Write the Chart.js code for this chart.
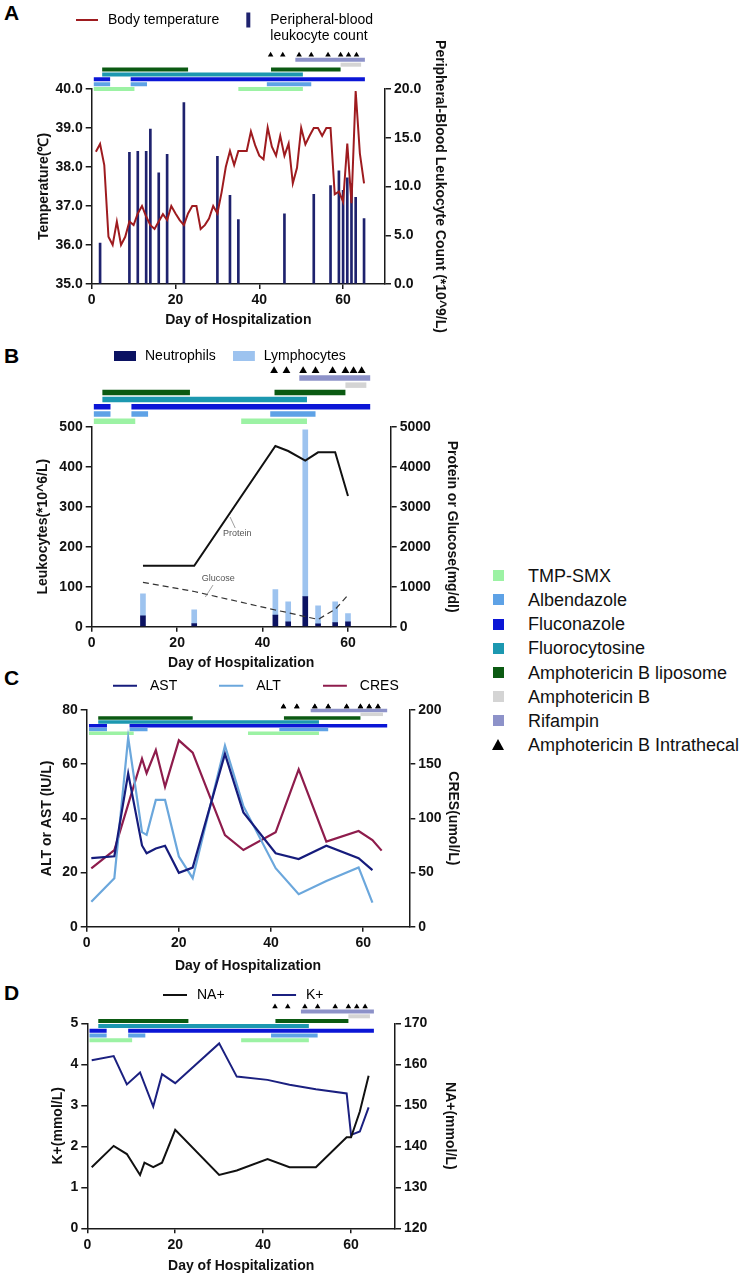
<!DOCTYPE html>
<html>
<head>
<meta charset="utf-8">
<script src="https://cdn.jsdelivr.net/npm/chart.js@4.4.1/dist/chart.umd.min.js"></script>
<style>
  body { margin: 0; width: 750px; height: 1279px; background: #fff; position: relative; overflow: hidden;
         font-family: 'Liberation Sans', Arial, sans-serif; }
  canvas { position: absolute; left: 0; }
  .tag { position: absolute; left: 4px; font-weight: bold; font-size: 21px; line-height: 21px; color: #000; }
  .swatch { position: absolute; left: 493px; width: 11px; height: 11px; }
  .tri { position: absolute; left: 492px; width: 0; height: 0; border-left: 6px solid transparent;
         border-right: 6px solid transparent; border-bottom: 11px solid #000; }
  .drugname { position: absolute; left: 528px; font-size: 18px; line-height: 20px; color: #111; white-space: nowrap; }
</style>
</head>
<body>
<div class="tag" style="top:2px">A</div>
<div class="tag" style="top:345px">B</div>
<div class="tag" style="top:667px">C</div>
<div class="tag" style="top:982px">D</div>
<canvas id="panelA" width="480" height="335" style="top:0px"></canvas>
<canvas id="panelB" width="480" height="345" style="top:335px"></canvas>
<canvas id="panelC" width="480" height="318" style="top:665px"></canvas>
<canvas id="panelD" width="480" height="304" style="top:975px"></canvas>
<div id="drugLegend"></div>
<script>
// treatment courses, [first day, last day]
const drugNames = ['TMP-SMX', 'Albendazole', 'Fluconazole', 'Fluorocytosine', 'Amphotericin B liposome', 'Amphotericin B', 'Rifampin'];
const drugColors = ['#9cf2a4', '#5ea2e6', '#0b16d6', '#1c98b0', '#0b5a12', '#d4d4d4', '#8d92c9'];
const tmpSmx = [[0.5, 10.2], [35, 50.4]];
const albendazole = [[0.5, 4.4], [9.3, 13.2], [41.8, 52.4]];
const fluconazole = [[0.5, 4.4], [9.3, 65.2]];
const fluorocytosine = [[2.5, 50.4]];
const amphoLiposome = [[2.5, 23.0], [42.8, 59.4]];
const amphoB = [[59.4, 64.3]];
const rifampin = [[48.6, 65.2]];
const drugCourses = [tmpSmx, albendazole, fluconazole, fluorocytosine, amphoLiposome, amphoB, rifampin];
const intrathecalDays = [42.7, 45.6, 49.5, 52.4, 56.4, 59.4, 61.3, 63.2];

// A: body temperature and blood leukocytes
const tempDays = [1, 2, 3, 4, 5, 6, 7, 8, 9, 10, 11, 12, 13, 14, 15, 16, 17, 18, 19, 20, 21, 22, 23, 24, 25, 26, 27, 28, 29, 30,
  31, 32, 33, 34, 35, 36, 37, 38, 39, 40, 41, 42, 43, 44, 45, 46, 47, 48, 49, 50, 51, 52, 53, 54, 55, 56, 57, 58, 59, 60,
  61, 62, 63, 64, 65];
const tempValues = [38.39, 38.59, 38.05, 36.21, 36.0, 36.6, 36.0, 36.21, 36.6, 36.51, 36.81, 37.0, 36.73, 36.51, 36.41,
  36.6, 36.79, 36.64, 37.0, 36.81, 36.64, 36.51, 36.81, 37.0, 37.0, 36.41, 36.51, 36.68, 37.0, 36.81, 37.35, 38.0, 38.41,
  38.05, 38.41, 38.41, 38.41, 38.91, 38.56, 38.29, 38.2, 39.01, 38.52, 38.29, 38.8, 38.29, 38.6, 37.58, 37.98, 39.0, 38.58,
  38.8, 39.0, 39.0, 38.8, 39.0, 39.0, 37.3, 37.37, 37.11, 38.6, 37.07, 39.95, 38.35, 37.58];
const wbcDays = [2, 9, 11, 13, 14, 16, 18, 22, 30, 33, 35, 46, 53, 57, 59, 60, 61, 62, 63, 65];
const wbcValues = [4.2, 13.5, 13.6, 13.6, 15.9, 11.4, 13.3, 18.6, 13.1, 9.1, 6.6, 7.2, 9.2, 10.1, 11.6, 9.6, 10.9, 10.3, 8.9, 6.7];

// B: cerebrospinal fluid
const csfDays = [12, 24, 43, 46, 50, 53, 57, 60];
const neutrophils = [27, 8, 29, 12, 75, 7, 10, 12];
const lymphocytes = [55, 34, 64, 50, 417, 45, 52, 21];
const protein = [1525, 1525, 4517, 4392, 4150, 4360, 4360, 3267];
const glucose = [1110, 880, 417, 350, 250, 183, 433, 792];
const proteinNote = { text: 'Protein', at: [34.1, 2340], from: [32.4, 2742], to: [33.6, 2467] };
const glucoseNote = { text: 'Glucose', at: [29.6, 1217], from: [26.6, 742], to: [28.4, 1042] };

// C: liver and kidney
const liverDays = [1, 6, 9, 12, 13, 15, 17, 20, 23, 30, 34, 41, 46, 52, 59, 62];
const astValues = [25.3, 26, 56.6, 30, 27.1, 28.9, 29.9, 19.9, 21.8, 63.8, 42.2, 27.1, 25, 29.9, 25.3, 20.9];
const altValues = [9.2, 17.9, 69.8, 34.9, 33.9, 46.8, 46.8, 25.9, 17.9, 66.8, 44.5, 21.6, 12, 16.9, 21.9, 8.9];
const cresDays = [1, 6, 12, 13, 15, 17, 20, 23, 30, 34, 41, 46, 52, 59, 62, 64];
const cresValues = [53.9, 70.8, 155, 141.6, 163, 129, 172, 160.6, 84.6, 70.8, 87.1, 145.3, 78.5, 88.3, 80, 70.2];

// D: electrolytes
const kDays = [1, 6, 9, 12, 15, 17, 20, 30, 34, 41, 46, 52, 59, 60, 62, 64];
const kValues = [4.1, 4.2, 3.51, 3.8, 2.97, 3.76, 3.54, 4.51, 3.7, 3.62, 3.5, 3.39, 3.29, 2.28, 2.36, 2.95];
const naDays = [1, 6, 9, 12, 13, 15, 17, 20, 30, 34, 41, 46, 52, 59, 60, 62, 64];
const naValues = [134.9, 140.1, 138.1, 133.0, 136.0, 134.9, 136.0, 144.0, 133.0, 134.1, 136.9, 134.9, 134.9, 142.2, 142.2, 148.5, 157.2];

const FONT = "'Liberation Sans', Arial, sans-serif";
const tickFont = { family: FONT, size: 14, weight: 'bold' };
const titleFont = { family: FONT, size: 14, weight: 'bold' };
const legendFont = { family: FONT, size: 14, lineHeight: 1.12 };
const axisColor = '#1a1a1a';

const pairs = (xs, ys) => xs.map((x, i) => ({ x, y: ys[i] }));

// legend: fixed reserved height, and the first symbol placed at a given spot
const legendSpot = {
  id: 'legendSpot',
  beforeInit(chart, args, opts) {
    const legend = chart.legend;
    const fit = legend.fit;
    legend.fit = function () { fit.call(this); this.height = opts.height; };
  },
  afterLayout(chart, args, opts) {
    const legend = chart.legend;
    legend.left = opts.x - opts.pad;
    legend.right = legend.left + 2000;
    legend.top = opts.y - opts.pad - legendFont.size / 2;
  }
};

// points above the plot area are skipped by Chart.js, so redraw the marker set against the whole canvas
const markersOutside = {
  id: 'markersOutside',
  afterDatasetsDraw(chart) {
    const whole = { left: 0, top: 0, right: chart.width, bottom: chart.height };
    chart.data.datasets.forEach((ds, i) => {
      if (!ds.outsideMarkers) return;
      chart.getDatasetMeta(i).data.forEach(pt => pt.draw(chart.ctx, whole));
    });
  }
};

const curveNotes = {
  id: 'curveNotes',
  afterDatasetsDraw(chart, args, opts) {
    const { ctx, scales: { x, y1 } } = chart;
    ctx.save();
    (opts.notes || []).forEach(n => {
      ctx.strokeStyle = '#888';
      ctx.lineWidth = 0.8;
      ctx.beginPath();
      ctx.moveTo(x.getPixelForValue(n.from[0]), y1.getPixelForValue(n.from[1]));
      ctx.lineTo(x.getPixelForValue(n.to[0]), y1.getPixelForValue(n.to[1]));
      ctx.stroke();
      ctx.fillStyle = '#555';
      ctx.font = '9px ' + FONT;
      ctx.textAlign = 'center';
      ctx.textBaseline = 'middle';
      ctx.fillText(n.text, x.getPixelForValue(n.at[0]), y1.getPixelForValue(n.at[1]));
    });
    ctx.restore();
  }
};

function lineIcon(color, width, len, lw) {
  const c = document.createElement('canvas');
  c.width = width; c.height = 16;
  const g = c.getContext('2d');
  g.strokeStyle = color; g.lineWidth = lw;
  g.beginPath(); g.moveTo(0, 8); g.lineTo(len, 8); g.stroke();
  return c;
}

function boxIcon(color, width, bx, bw, bh) {
  const c = document.createElement('canvas');
  c.width = width; c.height = 16;
  const g = c.getContext('2d');
  g.fillStyle = color;
  g.fillRect(bx, 8 - bh / 2, bw, bh);
  return c;
}

function treatmentDatasets(thickness, triRadius) {
  const sets = drugCourses.map((courses, row) => ({
    type: 'line', label: drugNames[row], yAxisID: 'tr', clip: false,
    data: courses.flatMap(([s, e]) => [{ x: s, y: row }, { x: e, y: row }, { x: e, y: null }]),
    borderColor: drugColors[row], borderWidth: thickness, borderCapStyle: 'butt',
    pointRadius: 0, spanGaps: false, tension: 0
  }));
  sets.push({
    type: 'line', label: 'Amphotericin B Intrathecal', yAxisID: 'tr', clip: false, showLine: false,
    outsideMarkers: true,
    data: intrathecalDays.map(d => ({ x: d, y: drugNames.length })),
    pointStyle: 'triangle', pointRadius: triRadius, pointBackgroundColor: '#000', pointBorderWidth: 0
  });
  return sets;
}

// hidden axis that puts row 0 at offset0 px below the plot top, one row per step px
function treatmentAxis(offset0, step, plotHeight) {
  const max = offset0 / step;
  return { type: 'linear', display: false, min: max - plotHeight / step, max };
}

function dayAxis(height) {
  return {
    type: 'linear', min: 0, max: 70, offset: false,
    ticks: { stepSize: 20, includeBounds: false, font: tickFont, color: '#111', padding: 3, maxRotation: 0 },
    grid: { offset: false, drawOnChartArea: false, tickLength: 5, color: axisColor, lineWidth: 1.5 },
    border: { color: axisColor, width: 1.5 },
    title: { display: true, text: 'Day of Hospitalization', font: titleFont, color: '#111', padding: 0 },
    afterFit: s => { s.height = height; }
  };
}

function sideAxis(position, min, max, step, digits, text, width) {
  return {
    type: 'linear', position, min, max,
    ticks: { stepSize: step, font: tickFont, color: '#111', padding: 3, callback: v => v.toFixed(digits) },
    grid: { drawOnChartArea: false, tickLength: 6, color: axisColor, lineWidth: 1.5 },
    border: { color: axisColor, width: 1.5 },
    title: { display: true, text, font: titleFont, color: '#111', padding: 0 },
    afterFit: s => { s.width = width; }
  };
}

function buildPanel(id, p) {
  return new Chart(document.getElementById(id), {
    data: { datasets: p.datasets.concat(treatmentDatasets(p.thickness, p.triRadius)) },
    plugins: [legendSpot, markersOutside].concat(p.plugins || []),
    options: {
      responsive: false, animation: false, events: [],
      layout: { padding: p.padding },
      scales: {
        x: dayAxis(p.xHeight),
        y: p.y,
        y1: p.y1,
        tr: treatmentAxis(p.tr[0], p.tr[1], p.tr[2])
      },
      plugins: {
        tooltip: { enabled: false },
        legend: {
          align: 'start',
          labels: {
            usePointStyle: true, pointStyleWidth: p.legend.w, padding: p.legend.pad,
            font: legendFont, color: '#222',
            generateLabels: () => p.legendItems
          }
        },
        legendSpot: { x: p.legend.x, y: p.legend.y, pad: p.legend.pad, height: p.legend.height },
        curveNotes: { notes: p.notes || [] }
      }
    }
  });
}

const item = (text, icon) => ({ text, pointStyle: icon, fillStyle: 'transparent', strokeStyle: 'transparent', lineWidth: 0, hidden: false });

buildPanel('panelA', {
  padding: { left: 35.6, right: 31.6, top: 0, bottom: 6.6 },
  xHeight: 44.4,
  y: sideAxis('left', 35, 40, 1, 1, 'Temperature(\u2103)', 56.1),
  y1: sideAxis('right', 0, 20, 5, 1, 'Peripheral-Blood Leukocyte Count (*10^9/L)', 63.4),
  tr: [0, 4.86, 195], thickness: 4, triRadius: 3.2,
  legend: { x: 76, y: 20, pad: 19, w: 25, height: 89 },
  legendItems: [
    item('Body temperature', lineIcon('#9e1b1f', 25, 22, 2)),
    item(['Peripheral-blood', 'leukocyte count'], boxIcon('#1e226e', 25, 8, 4, 15))
  ],
  datasets: [
    { type: 'line', label: 'Body temperature', yAxisID: 'y', data: pairs(tempDays, tempValues),
      borderColor: '#9e1b1f', borderWidth: 2, pointRadius: 0, tension: 0 },
    { type: 'bar', label: 'Peripheral-blood leukocyte count', yAxisID: 'y1', data: pairs(wbcDays, wbcValues),
      backgroundColor: '#1e226e', barThickness: 2 }
  ]
});

buildPanel('panelB', {
  padding: { left: 34.6, right: 19.6, top: 0, bottom: 8.6 },
  xHeight: 44.7,
  y: sideAxis('left', 0, 500, 100, 0, 'Leukocytes(*10^6/L)', 57.1),
  y1: sideAxis('right', 0, 5000, 1000, 0, 'Protein or Glucose(mg/dl)', 69.7),
  tr: [-5.4, 7.23, 200], thickness: 5.5, triRadius: 4.5,
  legend: { x: 114, y: 21, pad: 17, w: 24, height: 91.7 },
  legendItems: [
    item('Neutrophils', boxIcon('#0b1262', 24, 0, 22, 10)),
    item('Lymphocytes', boxIcon('#9dc3ef', 24, 0, 22, 10))
  ],
  plugins: [curveNotes],
  notes: [proteinNote, glucoseNote],
  datasets: [
    { type: 'line', label: 'Protein', yAxisID: 'y1', data: pairs(csfDays, protein),
      borderColor: '#111', borderWidth: 2, pointRadius: 0, tension: 0 },
    { type: 'line', label: 'Glucose', yAxisID: 'y1', data: pairs(csfDays, glucose),
      borderColor: '#333', borderWidth: 1.2, borderDash: [6, 4], pointRadius: 0, tension: 0 },
    { type: 'bar', label: 'Neutrophils', yAxisID: 'y', stack: 'cells', data: pairs(csfDays, neutrophils),
      backgroundColor: '#0b1262', barThickness: 5 },
    { type: 'bar', label: 'Lymphocytes', yAxisID: 'y', stack: 'cells', data: pairs(csfDays, lymphocytes),
      backgroundColor: '#9dc3ef', barThickness: 5 }
  ]
});

buildPanel('panelC', {
  padding: { left: 38.3, right: 18.6, top: 0, bottom: 8.6 },
  xHeight: 47.7,
  y: sideAxis('left', 0, 80, 20, 0, 'ALT or AST (IU/L)', 48.4),
  y1: sideAxis('right', 0, 200, 50, 0, 'CRES(umol/L)', 52.1),
  tr: [23.3, 3.8, 216.7], thickness: 3.5, triRadius: 3.2,
  legend: { x: 113, y: 20.7, pad: 42, w: 30, height: 45 },
  legendItems: [
    item('AST', lineIcon('#161c7c', 30, 24, 2)),
    item('ALT', lineIcon('#6ba7dc', 30, 24, 2)),
    item('CRES', lineIcon('#8e1c4c', 30, 24, 2))
  ],
  datasets: [
    { type: 'line', label: 'AST', yAxisID: 'y', data: pairs(liverDays, astValues),
      borderColor: '#161c7c', borderWidth: 2.2, pointRadius: 0, tension: 0 },
    { type: 'line', label: 'ALT', yAxisID: 'y', data: pairs(liverDays, altValues),
      borderColor: '#6ba7dc', borderWidth: 2.2, pointRadius: 0, tension: 0 },
    { type: 'line', label: 'CRES', yAxisID: 'y1', data: pairs(cresDays, cresValues),
      borderColor: '#8e1c4c', borderWidth: 2.2, pointRadius: 0, tension: 0 }
  ]
});

buildPanel('panelD', {
  padding: { left: 49.6, right: 21.6, top: 0, bottom: 4.6 },
  xHeight: 46.1,
  y: sideAxis('left', 0, 5, 1, 0, 'K+(mmol/L)', 37.7),
  y1: sideAxis('right', 120, 170, 10, 0, 'NA+(mmol/L)', 63.4),
  tr: [17, 4.8, 205], thickness: 4, triRadius: 3.2,
  legend: { x: 163, y: 20, pad: 47.4, w: 27, height: 48.3 },
  legendItems: [
    item('NA+', lineIcon('#111', 27, 24, 2)),
    item('K+', lineIcon('#1b2080', 27, 24, 2))
  ],
  datasets: [
    { type: 'line', label: 'NA+', yAxisID: 'y1', data: pairs(naDays, naValues),
      borderColor: '#111', borderWidth: 2, pointRadius: 0, tension: 0 },
    { type: 'line', label: 'K+', yAxisID: 'y', data: pairs(kDays, kValues),
      borderColor: '#1b2080', borderWidth: 2, pointRadius: 0, tension: 0 }
  ]
});

// shared treatment key on the right
const key = document.getElementById('drugLegend');
drugNames.concat(['Amphotericin B Intrathecal']).forEach((name, i) => {
  const cy = 575.7 + i * 24.2;
  const mark = document.createElement('div');
  if (i < drugNames.length) {
    mark.className = 'swatch';
    mark.style.top = (cy - 5.5) + 'px';
    mark.style.background = drugColors[i];
  } else {
    mark.className = 'tri';
    mark.style.top = (cy - 6) + 'px';
  }
  const label = document.createElement('div');
  label.className = 'drugname';
  label.style.top = (cy - 10) + 'px';
  label.textContent = name;
  key.appendChild(mark);
  key.appendChild(label);
});
</script>
</body>
</html>
